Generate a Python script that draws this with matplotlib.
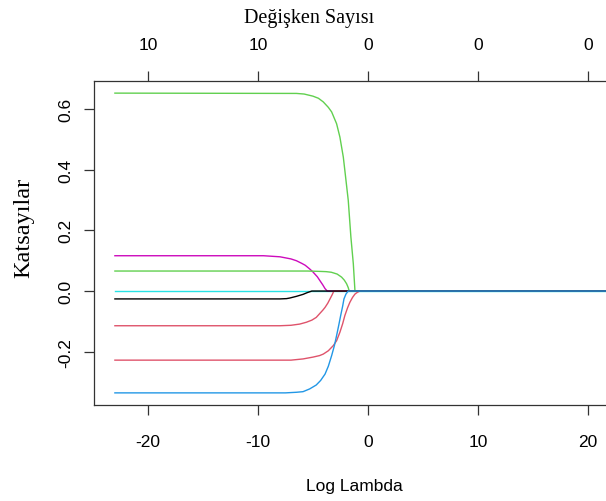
import matplotlib
matplotlib.use("Agg")
import matplotlib.pyplot as plt

# katsayi yollari (log lambda, katsayi)
cyan_x = [-23, 25]
cyan_y = [0.0, 0.0]

magenta_x = [-23, -9.5, -8.0, -7.0, -6.5, -6.0, -5.7, -5.3, -5.0, -4.6, -4.36, -4.1, -3.9, -3.7, 25]
magenta_y = [0.1165, 0.1165, 0.113, 0.106, 0.100, 0.091, 0.085, 0.073, 0.063, 0.047, 0.034, 0.020, 0.008, 0.0, 0.0]

green_top_x = [-23, -6.5, -5.8, -5.0, -4.5, -4.06, -3.6, -3.3, -2.85, -2.55, -2.24, -2.1,
               -1.79, -1.55, -1.33, -1.18, 25]
green_top_y = [0.653, 0.652, 0.650, 0.643, 0.636, 0.624, 0.606, 0.591, 0.552, 0.508, 0.442, 0.398,
               0.299, 0.178, 0.090, 0.0, 0.0]

green_x = [-23, -5.5, -4.5, -3.8, -3.33, -2.8, -2.4, -2.15, -1.94, -1.8, -1.7, 25]
green_y = [0.066, 0.066, 0.065, 0.064, 0.062, 0.056, 0.046, 0.036, 0.024, 0.012, 0.0, 0.0]

red1_x = [-23, -8.0, -7.0, -6.2, -5.6, -5.1, -4.7, -4.4, -4.1, -3.9, -3.65, -3.45, -3.25, -3.1, 25]
red1_y = [-0.1145, -0.1145, -0.113, -0.109, -0.103, -0.096, -0.087, -0.075, -0.063, -0.054,
          -0.040, -0.026, -0.012, 0.0, 0.0]

red2_x = [-23, -7.0, -5.9, -5.0, -4.4, -4.06, -3.6, -3.15, -2.85, -2.55, -2.3, -2.1, -1.85,
          -1.64, -1.4, -1.18, -0.95, -0.73, 25]
red2_y = [-0.228, -0.228, -0.224, -0.218, -0.213, -0.208, -0.197, -0.180, -0.164, -0.136, -0.108,
          -0.081, -0.055, -0.037, -0.021, -0.010, -0.004, 0.0, 0.0]

black_x = [-23, -8.0, -7.4, -7.1, -6.5, -5.9, -5.5, -5.1, 25]
black_y = [-0.026, -0.026, -0.025, -0.023, -0.0175, -0.011, -0.005, 0.0, 0.0]

blue_x = [-23, -7.5, -6.5, -5.9, -5.3, -4.7, -4.3, -3.9, -3.6, -3.3, -3.05, -2.85, -2.65,
          -2.48, -2.3, -2.18, -2.0, -1.79, 25]
blue_y = [-0.336, -0.336, -0.334, -0.332, -0.323, -0.310, -0.295, -0.274, -0.248, -0.213, -0.180,
          -0.147, -0.112, -0.081, -0.050, -0.026, -0.010, 0.0, 0.0]

paths = [
    (cyan_x, cyan_y, "#28E2E5"),
    (magenta_x, magenta_y, "#CD0BBC"),
    (green_top_x, green_top_y, "#61D04F"),
    (green_x, green_y, "#61D04F"),
    (red1_x, red1_y, "#DF536B"),
    (red2_x, red2_y, "#DF536B"),
    (black_x, black_y, "black"),
    (blue_x, blue_y, "#2297E6"),
]

x_ticks = [-20, -10, 0, 10, 20]
top_labels = ["10", "10", "0", "0", "0"]
y_ticks = [-0.2, 0.0, 0.2, 0.4, 0.6]

W, H = 606, 502
fig = plt.figure(figsize=(W / 100, H / 100), dpi=100)
ax = fig.add_axes([94 / W, 1 - 406 / H, 549 / W, 324 / H])

for x, y, c in paths:
    ax.plot(x, y, color=c, lw=1.0, solid_joinstyle="round")

ax.set_xlim(-24.9, 25)
ax.set_ylim(-0.376, 0.693)

sans = "Liberation Sans"
serif = "Liberation Serif"
spine_c = "#333333"

for s in ax.spines.values():
    s.set_color(spine_c)
    s.set_linewidth(0.9)

ax.set_xticks(x_ticks)
ax.set_xticklabels([str(t) for t in x_ticks], fontfamily=sans, fontsize=12.5)
ax.set_yticks(y_ticks)
ax.set_yticklabels(["%.1f" % t for t in y_ticks], fontfamily=sans, fontsize=12.5,
                   rotation=90, va="center")
ax.tick_params(axis="x", length=7, width=0.9, color=spine_c, pad=14)
ax.tick_params(axis="y", length=7, width=0.9, color=spine_c, pad=8)

ax2 = ax.twiny()
ax2.set_xlim(ax.get_xlim())
ax2.set_xticks(x_ticks)
ax2.set_xticklabels(top_labels, fontfamily=sans, fontsize=12.5)
ax2.tick_params(axis="x", length=7, width=0.9, color=spine_c, pad=14)
for s in ax2.spines.values():
    s.set_visible(False)

fig.text(309 / W, 1 - 19 / H, "Değişken Sayısı", fontfamily=serif, fontsize=14.5,
         ha="center", va="center")
fig.text(354 / W, 1 - 487 / H, "Log Lambda", fontfamily=sans, fontsize=12.5,
         ha="center", va="center")
fig.text(24 / W, 1 - 228 / H, "Katsayılar", fontfamily=serif, fontsize=17.5,
         ha="center", va="center", rotation=90)

fig.savefig("out.png", dpi=100)
